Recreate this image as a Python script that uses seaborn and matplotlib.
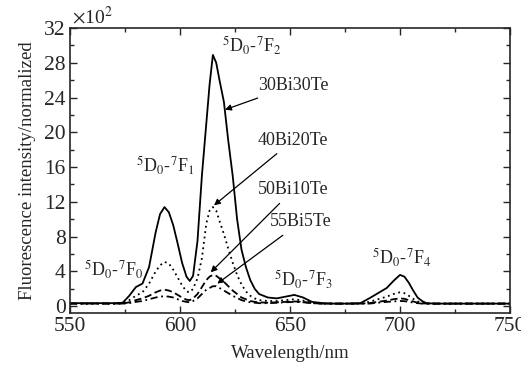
import numpy as np
import pandas as pd
import seaborn as sns
import matplotlib
matplotlib.use('Agg')
import matplotlib.pyplot as plt
from matplotlib.ticker import MultipleLocator

# wavelength grid (nm), shared by all four curves
wavelength = [550, 560, 570, 574, 577, 580, 583, 586, 589, 591,
              593, 595, 597, 599, 601, 603, 604.5, 606, 608, 610,
              612, 613.5, 615, 616.5, 618, 620, 622, 624, 626, 628,
              630, 632, 634, 636, 640, 644, 648, 652, 656, 660,
              665, 670, 676, 682, 686, 690, 694, 697, 700, 702,
              704, 706, 708, 710, 712, 716, 725, 740, 750]

# intensities in units of 10^2
i_30bi30te = [0.35, 0.35, 0.35, 0.4, 1.2, 2.2, 2.6, 4.5, 8.5, 10.6,
              11.4, 10.8, 9.3, 7.2, 5.0, 3.4, 2.9, 3.5, 7.5, 15.0,
              21.0, 25.5, 28.9, 28.0, 26.0, 23.5, 19.0, 15.0, 10.0, 6.5,
              4.5, 3.0, 2.0, 1.4, 1.0, 0.9, 1.1, 1.3, 1.0, 0.5,
              0.35, 0.3, 0.3, 0.35, 0.9, 1.5, 2.1, 2.9, 3.6, 3.4,
              2.7, 1.8, 1.0, 0.6, 0.35, 0.3, 0.3, 0.3, 0.3]
i_40bi20te = [0.3, 0.3, 0.3, 0.35, 0.7, 1.2, 1.6, 2.6, 4.0, 4.7,
              5.1, 4.9, 4.2, 3.3, 2.4, 1.7, 1.6, 2.0, 3.2, 5.5,
              9.5, 11.0, 11.4, 11.0, 9.8, 8.3, 6.6, 5.0, 3.6, 2.5,
              1.7, 1.2, 0.9, 0.7, 0.6, 0.6, 0.7, 0.8, 0.65, 0.4,
              0.3, 0.3, 0.3, 0.3, 0.5, 0.8, 1.1, 1.4, 1.6, 1.5,
              1.2, 0.85, 0.55, 0.4, 0.3, 0.3, 0.3, 0.3, 0.3]
i_50bi10te = [0.3, 0.3, 0.3, 0.3, 0.45, 0.7, 0.9, 1.2, 1.6, 1.8,
              1.9, 1.8, 1.6, 1.3, 1.0, 0.75, 0.7, 0.9, 1.4, 2.2,
              3.0, 3.4, 3.6, 3.5, 3.2, 2.8, 2.3, 1.8, 1.4, 1.0,
              0.8, 0.6, 0.5, 0.45, 0.4, 0.45, 0.5, 0.55, 0.5, 0.35,
              0.3, 0.3, 0.3, 0.3, 0.35, 0.5, 0.65, 0.8, 0.9, 0.85,
              0.7, 0.55, 0.4, 0.35, 0.3, 0.3, 0.3, 0.3, 0.3]
i_55bi5te = [0.3, 0.3, 0.3, 0.3, 0.35, 0.5, 0.6, 0.8, 1.0, 1.1,
             1.15, 1.1, 1.0, 0.8, 0.6, 0.5, 0.45, 0.6, 0.9, 1.4,
             1.9, 2.1, 2.3, 2.3, 2.1, 1.8, 1.5, 1.2, 0.95, 0.7,
             0.55, 0.45, 0.4, 0.35, 0.35, 0.4, 0.45, 0.5, 0.45, 0.35,
             0.3, 0.3, 0.3, 0.3, 0.3, 0.4, 0.5, 0.55, 0.6, 0.58,
             0.5, 0.42, 0.35, 0.3, 0.3, 0.3, 0.3, 0.3, 0.3]

samples = ['30Bi30Te', '40Bi20Te', '50Bi10Te', '55Bi5Te']

df = pd.concat([
    pd.DataFrame({'wl': wavelength, 'I': vals, 'sample': name})
    for name, vals in zip(samples, [i_30bi30te, i_40bi20te, i_50bi10te, i_55bi5te])
])

sns.set_style('ticks')
plt.rcParams['font.family'] = ['Liberation Serif', 'DejaVu Serif']
plt.rcParams['mathtext.fontset'] = 'stix'
plt.rcParams['font.size'] = 13

fig, ax = plt.subplots(figsize=(5.21, 3.68), dpi=100)
fig.subplots_adjust(left=0.134, right=0.979, top=0.924, bottom=0.149)

sns.lineplot(data=df, x='wl', y='I', hue='sample', style='sample',
             palette=['black'] * 4,
             dashes={'30Bi30Te': '', '40Bi20Te': (1, 2),
                     '50Bi10Te': (4, 2), '55Bi5Te': (4, 2, 1, 2)},
             linewidth=1.3, legend=False, ax=ax)

ax.set_xlim(550, 750)
ax.set_ylim(-0.8, 32)
ax.xaxis.set_major_locator(MultipleLocator(50))
ax.xaxis.set_minor_locator(MultipleLocator(25))
ax.yaxis.set_major_locator(MultipleLocator(4))
ax.yaxis.set_minor_locator(MultipleLocator(2))
ax.tick_params(which='both', direction='in', top=True, right=True, labelsize=15.5)
ax.tick_params(which='major', length=5, width=1, pad=3)
ax.tick_params(which='minor', length=3, width=1)
for s in ax.spines.values():
    s.set_linewidth(1.2)

ax.set_xlabel('Wavelength/nm', fontsize=13.5, labelpad=6)
ax.set_ylabel('Fluorescence intensity/normalized', fontsize=13.5, labelpad=6)
ax.text(0.005, 1.0, r'$\times$10$^2$', transform=ax.transAxes,
        ha='left', va='bottom', fontsize=14)

# transition labels
ax.text(619, 30, r'$^5$D$_0$-$^7$F$_2$', ha='left', va='center', fontsize=13)
ax.text(580, 16.2, r'$^5$D$_0$-$^7$F$_1$', ha='left', va='center', fontsize=13)
ax.text(556.4, 4.2, r'$^5$D$_0$-$^7$F$_0$', ha='left', va='center', fontsize=13)
ax.text(642.7, 3.0, r'$^5$D$_0$-$^7$F$_3$', ha='left', va='center', fontsize=13)
ax.text(687.3, 5.6, r'$^5$D$_0$-$^7$F$_4$', ha='left', va='center', fontsize=13)

# sample labels with arrows
arrow = dict(arrowstyle='-|>', color='black', lw=0.9, mutation_scale=9,
             shrinkA=2, shrinkB=0)
ax.annotate('30Bi30Te', xy=(620.5, 22.6), xytext=(635.5, 25.4),
            ha='left', va='center', fontsize=13, arrowprops=arrow)
ax.annotate('40Bi20Te', xy=(615.5, 11.6), xytext=(635.5, 19.1),
            ha='left', va='center', fontsize=13, arrowprops=arrow)
ax.annotate('50Bi10Te', xy=(614, 3.9), xytext=(635.5, 13.4),
            ha='left', va='center', fontsize=13, arrowprops=arrow)
ax.annotate('55Bi5Te', xy=(617, 2.6), xytext=(641, 9.7),
            ha='left', va='center', fontsize=13, arrowprops=arrow)

fig.savefig('out.png', dpi=100)
